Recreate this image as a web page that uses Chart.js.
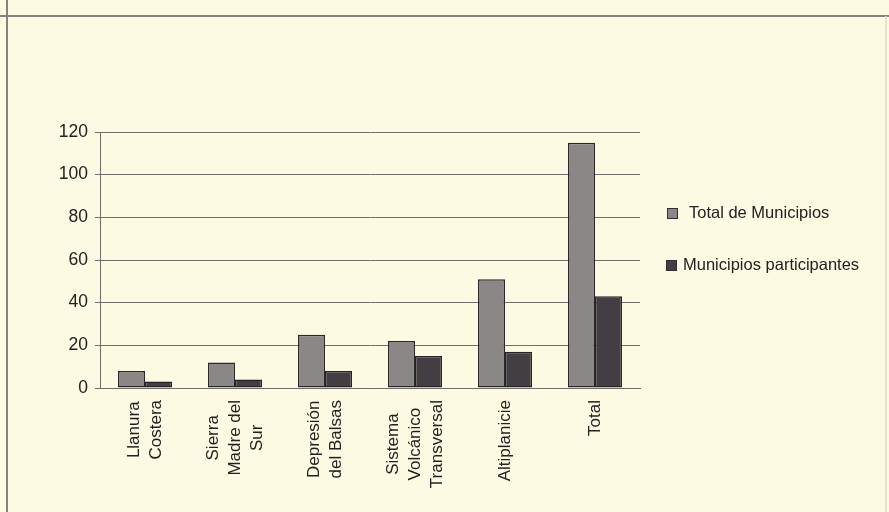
<!DOCTYPE html>
<html>
<head>
<meta charset="utf-8">
<script src="https://cdn.jsdelivr.net/npm/chart.js@4"></script>
<style>
  html, body { margin: 0; padding: 0; background: #fcfae3; }
  #wrap { width: 889px; height: 512px; }
</style>
</head>
<body>
<div id="wrap"><canvas id="myChart" width="889" height="512"></canvas></div>
<script>
// Regions and their municipalities
const regiones = [
  ['Llanura', 'Costera'],
  ['Sierra', 'Madre del', 'Sur'],
  ['Depresión', 'del Balsas'],
  ['Sistema', 'Volcánico', 'Transversal'],
  ['Altiplanicie'],
  ['Total']
];
const totalMunicipios = [8, 12, 25, 22, 51, 115];
const municipiosParticipantes = [3, 4, 8, 15, 17, 43];
const yTicks = [0, 20, 40, 60, 80, 100, 120];

const FONT = '"Liberation Sans", Arial, Helvetica, sans-serif';
const TEXT = '#222120';

// Paper background and the page frame lines
const paper = {
  id: 'paper',
  beforeDraw(chart) {
    const c = chart.ctx;
    c.save();
    c.fillStyle = '#fcfae3';
    c.fillRect(0, 0, chart.width, chart.height);
    c.restore();
  },
  afterDraw(chart) {
    const c = chart.ctx;
    c.save();
    c.strokeStyle = '#85847b';
    c.lineWidth = 2;
    c.beginPath();
    c.moveTo(0, 16); c.lineTo(chart.width, 16);
    c.moveTo(7, 0); c.lineTo(7, chart.height);
    c.stroke();
    c.strokeStyle = '#dedbc6';
    c.lineWidth = 1.5;
    c.beginPath();
    c.moveTo(886, 16); c.lineTo(886, chart.height);
    c.stroke();
    c.restore();
  }
};

// Rotated, multi-line category labels centred on each tick
const rotatedLabels = {
  id: 'rotatedLabels',
  afterDraw(chart) {
    const c = chart.ctx;
    const x = chart.scales.x;
    const top = chart.chartArea.bottom + 12;
    const lh = 22;
    c.save();
    c.font = '17px ' + FONT;
    c.fillStyle = TEXT;
    c.textAlign = 'center';
    c.textBaseline = 'middle';
    regiones.forEach((lines, i) => {
      const px = x.getPixelForTick(i);
      const w = Math.max(...lines.map(l => c.measureText(l).width));
      const cy = top + w / 2;
      lines.forEach((line, j) => {
        const lx = px + (j - (lines.length - 1) / 2) * lh;
        c.save();
        c.translate(lx, cy);
        c.rotate(-Math.PI / 2);
        c.fillText(line, 0, 0);
        c.restore();
      });
    });
    c.restore();
  }
};

// Legend at the right of the plot
const sideLegend = {
  id: 'sideLegend',
  afterDraw(chart) {
    const c = chart.ctx;
    const rows = [
      { y: 213, box: 667, text: 689 },
      { y: 265, box: 666, text: 683 }
    ];
    c.save();
    c.font = '16.5px ' + FONT;
    c.textBaseline = 'middle';
    chart.data.datasets.forEach((ds, i) => {
      const r = rows[i];
      c.fillStyle = ds.backgroundColor;
      c.fillRect(r.box, r.y - 5, 11, 11);
      c.strokeStyle = '#2f2d2d';
      c.lineWidth = 1;
      c.strokeRect(r.box + 0.5, r.y - 4.5, 10, 10);
      c.fillStyle = TEXT;
      c.fillText(ds.label, r.text, r.y);
    });
    c.restore();
  }
};

new Chart(document.getElementById('myChart'), {
  type: 'bar',
  data: {
    labels: regiones,
    datasets: [{
      label: 'Total de Municipios',
      data: totalMunicipios,
      backgroundColor: '#8b8787',
      borderColor: '#2a2828',
      borderWidth: 1.5,
      borderSkipped: false
    }, {
      label: 'Municipios participantes',
      data: municipiosParticipantes,
      backgroundColor: '#423e44',
      borderColor: '#252325',
      borderWidth: 1.5,
      borderSkipped: false
    }]
  },
  options: {
    responsive: false,
    animation: false,
    layout: { padding: { top: 132, right: 249, bottom: 124, left: 0 } },
    plugins: { legend: { display: false }, tooltip: { enabled: false } },
    datasets: { bar: { categoryPercentage: 0.6, barPercentage: 1.0 } },
    scales: {
      x: {
        grid: { display: false },
        border: { display: true, color: '#6f6e68', width: 1 },
        ticks: { display: false },
        afterFit(scale) { scale.height = 0; }
      },
      y: {
        min: 0,
        max: 120,
        afterBuildTicks(scale) { scale.ticks = yTicks.map(v => ({ value: v })); },
        grid: { color: '#6f6e68', lineWidth: 1, tickLength: 5 },
        border: { display: true, color: '#6f6e68', width: 1 },
        ticks: {
          color: TEXT,
          padding: 7,
          font: { family: FONT, size: 17.5 }
        },
        afterFit(scale) { scale.width = 100; }
      }
    }
  },
  plugins: [paper, rotatedLabels, sideLegend]
});
</script>
</body>
</html>
